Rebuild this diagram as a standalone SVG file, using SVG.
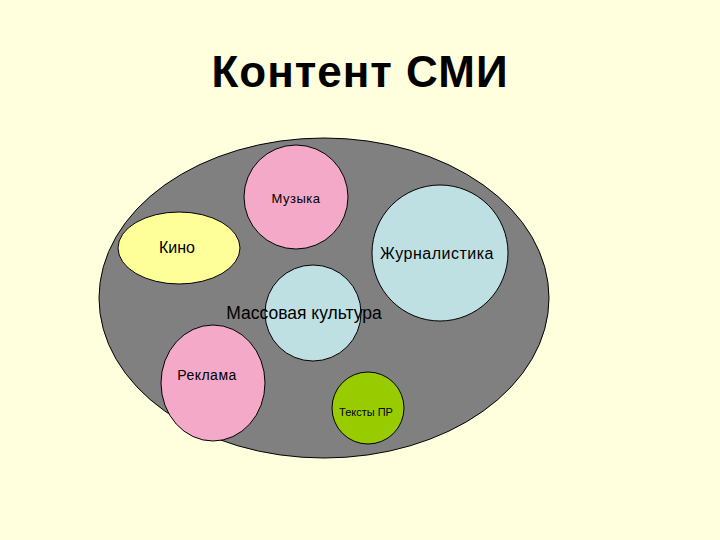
<svg xmlns="http://www.w3.org/2000/svg" width="720" height="540" viewBox="0 0 720 540">
<style>
.s{stroke:#000;stroke-width:1}
text{font-family:"Liberation Sans",Arial,sans-serif;fill:#000}
</style>
<rect width="720" height="540" fill="#FFFFDD"/>
<text x="360" y="87" font-size="44" font-weight="bold" text-anchor="middle" letter-spacing="1">Контент СМИ</text>
<g id="smi"><ellipse cx="324" cy="298" rx="225" ry="160" fill="#808080" class="s"/></g>
<g id="muzyka"><circle cx="296" cy="197" r="52" fill="#F4A9C9" class="s"/><text x="296" y="203" text-anchor="middle" font-size="13" letter-spacing="0.5">Музыка</text></g>
<g id="kino"><ellipse cx="179" cy="248" rx="61" ry="36" fill="#FFFF99" class="s"/><text x="177" y="253" text-anchor="middle" font-size="16">Кино</text></g>
<g id="zhurn"><circle cx="440" cy="253" r="68" fill="#BFE0E3" class="s"/><text x="437" y="259" text-anchor="middle" font-size="16" letter-spacing="0.5">Журналистика</text></g>
<g id="reklama"><ellipse cx="213" cy="383" rx="52" ry="58" fill="#F4A9C9" class="s"/><text x="207" y="380" text-anchor="middle" font-size="14" letter-spacing="0.5">Реклама</text></g>
<g id="mass"><circle cx="313" cy="313" r="48" fill="#BFE0E3" class="s"/><text x="304" y="319" text-anchor="middle" font-size="17.5">Массовая культура</text></g>
<g id="pr"><circle cx="368" cy="408" r="36" fill="#99CC00" class="s"/><text x="366" y="416" text-anchor="middle" font-size="11">Тексты ПР</text></g>
<g id="connectors"/>
</svg>
